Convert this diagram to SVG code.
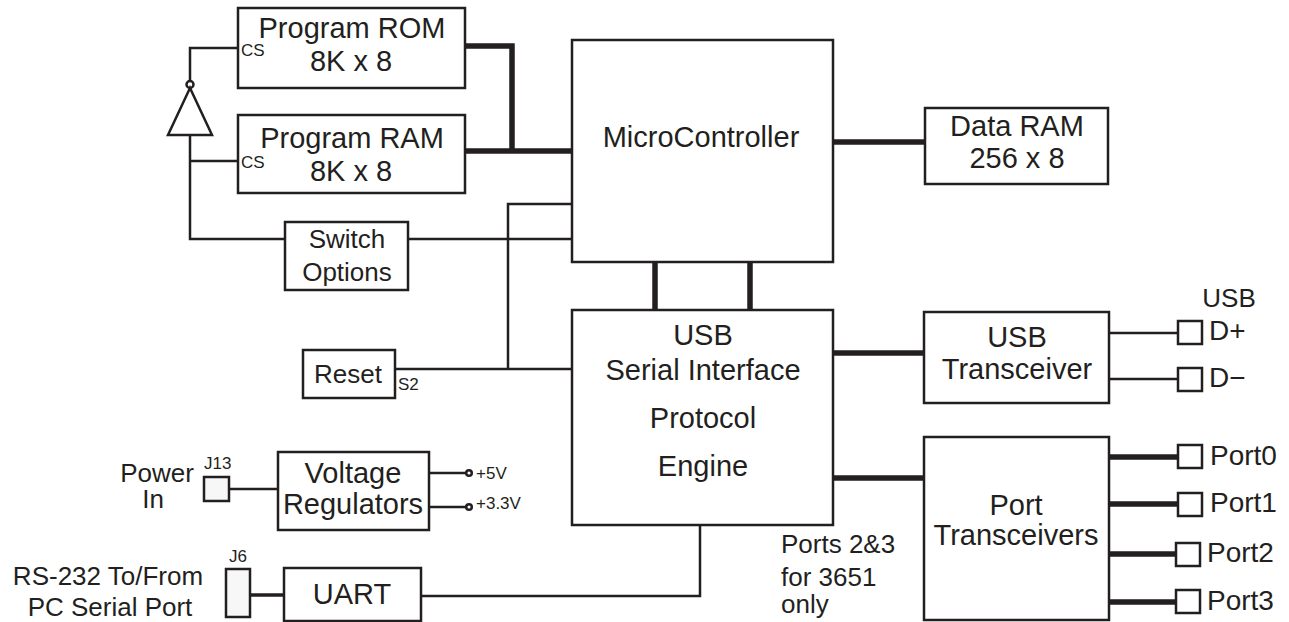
<svg xmlns="http://www.w3.org/2000/svg" width="1289" height="622" viewBox="0 0 1289 622">
<style>
.box{fill:#fff;stroke:#231f20;stroke-width:2.5}
.pin{fill:#f7f7f7;stroke:#231f20;stroke-width:2.5}
.w{fill:none;stroke:#231f20;stroke-width:2.5}
.b{fill:none;stroke:#231f20;stroke-width:5.5}
.m{fill:none;stroke:#231f20;stroke-width:3.5}
text{font-family:"Liberation Sans",Arial,sans-serif;fill:#231f20}
.t{font-size:29px;text-anchor:middle}
.tl{font-size:26px}
.p{font-size:28px}
.s{font-size:17px}
</style>
<rect width="1289" height="622" fill="#fff"/>
<g id="connectors">
<path class="b" d="M465,46 H512 V151 M465,151 H572"/>
<path class="b" d="M833,142 H925"/>
<path class="b" d="M655,262 V310 M750,262 V310"/>
<path class="b" d="M833,353 H925"/>
<path class="b" d="M833,478 H925"/>
<path class="b" d="M1109,457 H1178 M1109,504 H1178 M1109,554 H1176 M1109,602 H1176"/>
<path class="w" d="M1109,333 H1178 M1109,379 H1178"/>
<path class="w" d="M190,80 V48 H238 M190,135 V239 H285 M190,161 H238"/>
<path class="w" d="M408,239 H572"/>
<path class="w" d="M395,369 H572 M508,369 V204 H572"/>
<path class="w" d="M229,489 H278"/>
<path class="w" d="M429,473 H466 M429,507 H466"/>
<path class="m" d="M250,595 H284"/>
<path class="w" d="M421,596 H700 V525"/>
</g>
<g id="inverter">
<polygon class="w" points="190,88 168,135 212,135"/>
<circle class="w" cx="190" cy="84.5" r="3.5" fill="#fff"/>
</g>
<g id="rom">
<rect class="box" x="238" y="8" width="227" height="80"/>
<text class="t" x="352" y="38">Program ROM</text>
<text class="t" x="351" y="71">8K x 8</text>
<text class="s" x="241" y="56">CS</text>
</g>
<g id="ram">
<rect class="box" x="238" y="115" width="227" height="78"/>
<text class="t" x="352" y="148">Program RAM</text>
<text class="t" x="351" y="181">8K x 8</text>
<text class="s" x="241" y="168">CS</text>
</g>
<g id="switch">
<rect class="box" x="285" y="222" width="123" height="68"/>
<text class="tl" x="347" y="248" text-anchor="middle" font-size="27">Switch</text>
<text class="tl" x="347" y="281" text-anchor="middle" font-size="27">Options</text>
</g>
<g id="mcu">
<rect class="box" x="572" y="40" width="261" height="222"/>
<text class="t" x="701" y="147">MicroController</text>
</g>
<g id="dataram">
<rect class="box" x="925" y="108" width="183" height="76"/>
<text class="t" x="1017" y="136">Data RAM</text>
<text class="t" x="1017" y="168">256 x 8</text>
</g>
<g id="sie">
<rect class="box" x="572" y="310" width="261" height="215"/>
<text class="t" x="703" y="345">USB</text>
<text class="t" x="703" y="380">Serial Interface</text>
<text class="t" x="703" y="428">Protocol</text>
<text class="t" x="703" y="476">Engine</text>
</g>
<g id="usbxcvr">
<rect class="box" x="924" y="312" width="185" height="91"/>
<text class="t" x="1017" y="347">USB</text>
<text class="t" x="1017" y="379">Transceiver</text>
</g>
<g id="portxcvr">
<rect class="box" x="924" y="437" width="185" height="183"/>
<text class="t" x="1016" y="515">Port</text>
<text class="t" x="1016" y="545">Transceivers</text>
</g>
<g id="usbpins">
<text class="tl" x="1229" y="307" text-anchor="middle">USB</text>
<rect class="box" x="1178" y="321" width="24" height="23"/>
<text class="p" x="1209" y="340">D+</text>
<rect class="box" x="1178" y="368" width="24" height="23"/>
<text class="p" x="1209" y="387">D−</text>
</g>
<g id="ports">
<rect class="box" x="1178" y="445" width="24" height="23"/>
<text class="p" x="1210" y="465">Port0</text>
<rect class="box" x="1178" y="493" width="24" height="23"/>
<text class="p" x="1210" y="512">Port1</text>
<rect class="box" x="1176" y="543" width="24" height="23"/>
<text class="p" x="1207" y="562">Port2</text>
<rect class="box" x="1176" y="590" width="24" height="23"/>
<text class="p" x="1207" y="610">Port3</text>
</g>
<g id="note">
<text class="tl" x="781" y="553">Ports 2&amp;3</text>
<text class="tl" x="781" y="586">for 3651</text>
<text class="tl" x="781" y="613">only</text>
</g>
<g id="reset">
<rect class="box" x="303" y="350" width="92" height="48"/>
<text class="tl" x="348" y="383" text-anchor="middle">Reset</text>
<text class="s" x="398" y="390">S2</text>
</g>
<g id="power">
<text class="tl" x="157" y="482" text-anchor="middle">Power</text>
<text class="tl" x="153" y="508" text-anchor="middle">In</text>
<text class="s" x="204" y="469">J13</text>
<rect class="pin" x="204" y="477" width="25" height="24"/>
</g>
<g id="vreg">
<rect class="box" x="278" y="452" width="151" height="78"/>
<text class="t" x="353" y="483">Voltage</text>
<text class="t" x="353" y="514">Regulators</text>
<circle class="w" cx="469" cy="473" r="2.8" fill="#fff"/>
<circle class="w" cx="469" cy="507" r="2.8" fill="#fff"/>
<text class="s" x="476" y="479">+5V</text>
<text class="s" x="476" y="509">+3.3V</text>
</g>
<g id="rs232">
<text class="tl" x="108" y="585" text-anchor="middle">RS-232 To/From</text>
<text class="tl" x="110" y="616" text-anchor="middle">PC Serial Port</text>
<text class="s" x="229" y="562">J6</text>
<rect class="pin" x="226" y="569" width="24" height="48"/>
</g>
<g id="uart">
<rect class="box" x="284" y="568" width="137" height="53"/>
<text class="t" x="352" y="604">UART</text>
</g>
</svg>
